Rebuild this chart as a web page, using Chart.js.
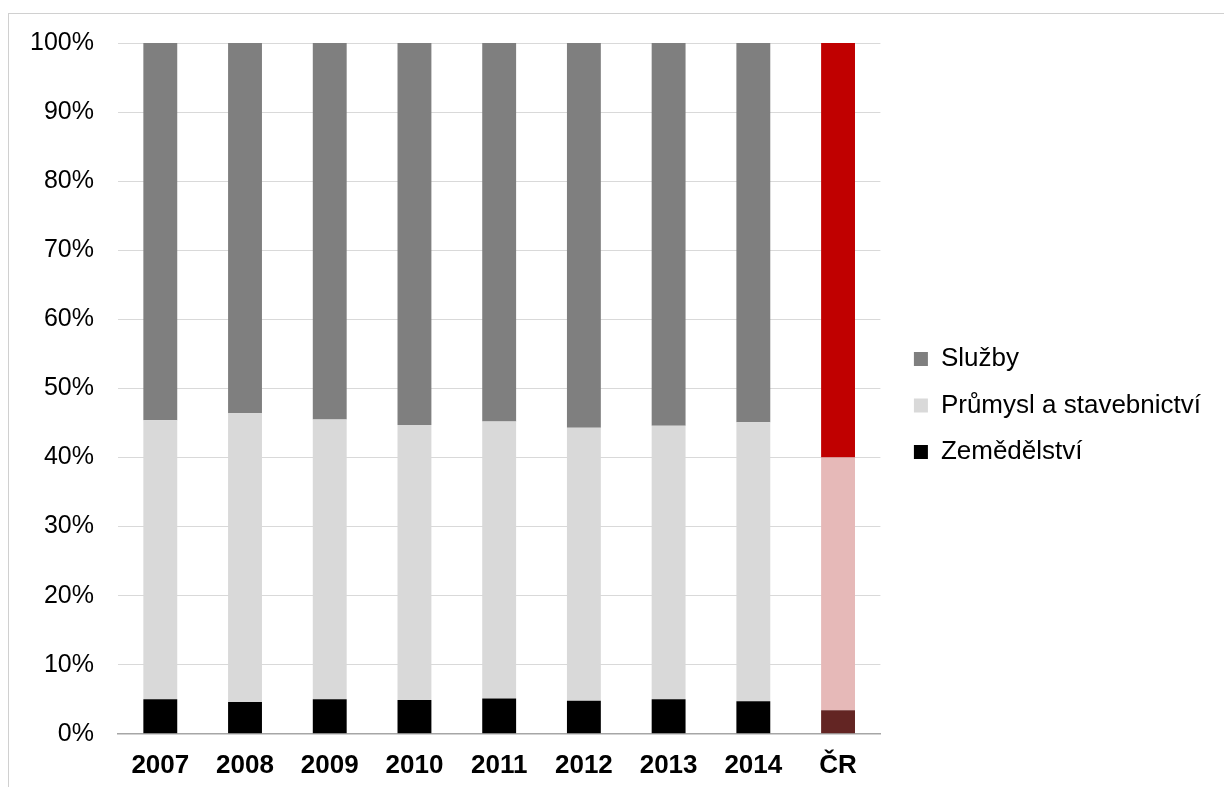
<!DOCTYPE html>
<html lang="cs">
<head>
  <meta charset="UTF-8">
  <title>Struktura zaměstnanosti</title>
  <script src="https://cdn.jsdelivr.net/npm/chart.js@4.4.0/dist/chart.umd.min.js"></script>
  <style>
    body {
      margin: 0;
      background: #ffffff;
      overflow: hidden;
    }
    .frame {
      position: absolute;
      left: 8px;
      top: 13px;
      width: 1240px;
      height: 800px;
      border: 1px solid #d0d0d0;
    }
    #chart {
      position: absolute;
      left: 0;
      top: 0;
    }
  </style>
</head>
<body>

<div class="frame"></div>
<canvas id="chart" width="1224" height="800"></canvas>

<script>
  // data (podíly v %)
  const kategorie = ['2007', '2008', '2009', '2010', '2011', '2012', '2013', '2014', 'ČR'];
  const zemedelstvi = [5.0, 4.6, 5.0, 4.9, 5.1, 4.8, 5.0, 4.7, 3.4];
  const prumysl = [40.4, 41.8, 40.5, 39.8, 40.1, 39.5, 39.6, 40.4, 36.6];
  const sluzby = [54.6, 53.6, 54.5, 55.3, 54.8, 55.7, 55.4, 54.9, 60.0];
  const yTicks = [0, 10, 20, 30, 40, 50, 60, 70, 80, 90, 100];

  const FONT = '"Liberation Sans", Arial, sans-serif';
  const cr = kategorie.indexOf('ČR');

  // barva podle sloupce - ČR je červeně
  function barva(sede, cervena) {
    return (ctx) => ctx.dataIndex === cr ? cervena : sede;
  }

  // legenda kousek od grafu a svisle jako v Excelu
  const legendaPosun = {
    id: 'legendaPosun',
    afterLayout(chart) {
      const lg = chart.legend;
      lg.left = chart.chartArea.right + 13;
      lg.right = lg.left + lg.width;
      lg.top = 43;
      lg.bottom = 768;
    }
  };

  new Chart(document.getElementById('chart'), {
    type: 'bar',
    data: {
      labels: kategorie,
      datasets: [
        { label: 'Zemědělství', data: zemedelstvi, backgroundColor: barva('#000000', '#632523') },
        { label: 'Průmysl a stavebnictví', data: prumysl, backgroundColor: barva('#d9d9d9', '#e6b9b8') },
        { label: 'Služby', data: sluzby, backgroundColor: barva('#7f7f7f', '#c00000') }
      ]
    },
    options: {
      responsive: false,
      animation: false,
      barPercentage: 0.4,
      categoryPercentage: 1,
      layout: {
        padding: { left: 6, top: 43, right: 26, bottom: 3 }
      },
      scales: {
        x: {
          stacked: true,
          grid: { display: false, drawTicks: false },
          border: { display: true, color: '#a6a6a6', width: 1.5 },
          ticks: {
            padding: 16,
            color: '#000',
            font: { family: FONT, size: 26, weight: 'bold' }
          }
        },
        y: {
          stacked: true,
          min: 0,
          max: 100,
          afterBuildTicks: (scale) => {
            scale.ticks = yTicks.map(v => ({ value: v }));
          },
          grid: { color: '#d9d9d9', drawTicks: false },
          border: { display: false },
          ticks: {
            padding: 24,
            color: '#000',
            font: { family: FONT, size: 25 },
            callback: (v) => v + '%'
          }
        }
      },
      plugins: {
        legend: {
          position: 'right',
          reverse: true,
          maxWidth: 400,
          labels: {
            boxWidth: 14,
            boxHeight: 14,
            padding: 20.5,
            color: '#000',
            font: { family: FONT, size: 26 }
          }
        },
        tooltip: { enabled: false }
      }
    },
    plugins: [legendaPosun]
  });
</script>

</body>
</html>
